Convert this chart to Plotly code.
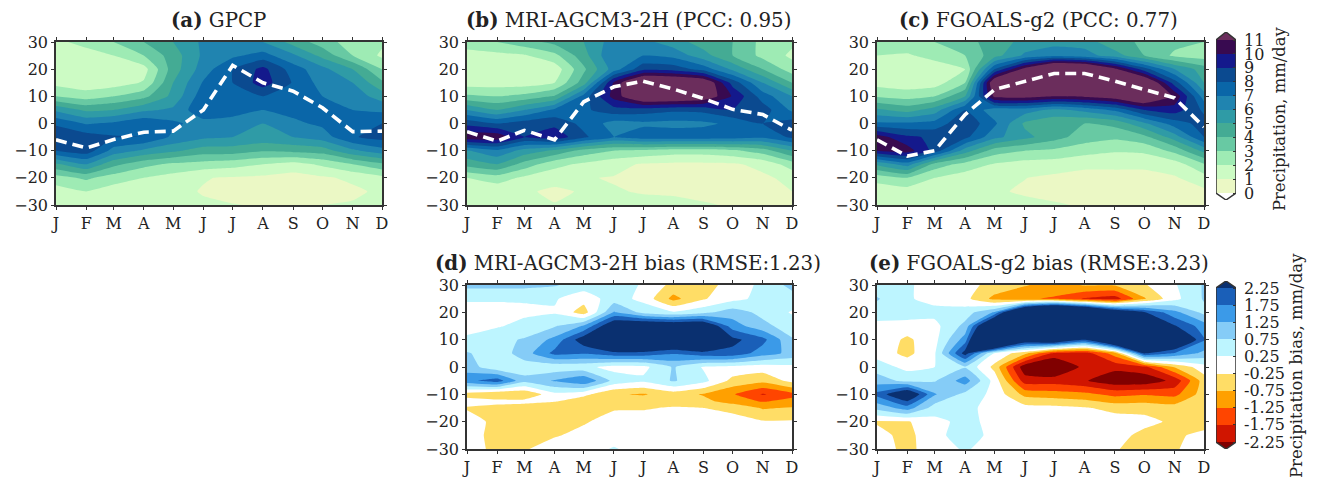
import plotly.graph_objects as go

W, H = 1320, 481
month_labels = ["J", "F", "M", "A", "M", "J", "J", "A", "S", "O", "N", "D"]
month_days = [0, 31, 59, 90, 120, 151, 181, 212, 243, 273, 304, 334]
lats = [30, 25, 20, 15, 10, 5, 0, -5, -10, -15, -20, -25, -30]
lats_d = [30, 25, 20, 15, 10, 5, 0, -5, -10, -12.5, -15, -20, -25, -30]

gpcp = [
    [1.8, 2.3, 3.0, 4.0, 5.0, 6.2, 6.3, 6.0, 4.6, 3.5, 2.5, 2.2],
    [1.5, 1.6, 2.0, 3.0, 4.5, 6.2, 6.8, 7.4, 6.2, 4.7, 3.0, 1.8],
    [1.2, 1.1, 1.1, 1.6, 4.5, 6.5, 8.0, 9.3, 7.5, 6.3, 5.0, 3.0],
    [1.7, 1.4, 1.5, 2.1, 5.0, 7.1, 8.0, 9.5, 7.9, 6.6, 6.0, 4.2],
    [3.0, 2.5, 3.0, 3.7, 5.3, 7.6, 7.6, 8.0, 7.5, 7.0, 6.6, 5.5],
    [5.8, 4.8, 5.0, 5.8, 6.2, 7.8, 7.2, 7.0, 7.3, 7.6, 7.0, 6.8],
    [7.8, 6.9, 7.2, 7.8, 7.2, 6.6, 6.8, 6.0, 6.8, 7.2, 7.7, 8.0],
    [9.0, 8.5, 8.1, 8.0, 6.8, 6.2, 6.0, 5.7, 6.0, 6.5, 7.9, 8.4],
    [8.0, 8.6, 6.6, 5.8, 5.2, 4.5, 4.5, 4.1, 4.3, 4.5, 5.8, 6.6],
    [4.8, 6.0, 4.3, 3.3, 2.8, 2.6, 2.4, 2.0, 1.6, 2.2, 3.0, 3.8],
    [2.6, 3.2, 2.5, 2.0, 1.6, 1.05, 0.9, 0.8, 0.6, 0.85, 1.2, 1.7],
    [1.5, 2.0, 1.5, 1.3, 1.2, 0.95, 0.6, 0.5, 0.5, 0.6, 0.8, 1.2],
    [1.3, 1.3, 1.2, 1.1, 1.1, 1.1, 1.05, 0.9, 0.9, 1.0, 1.1, 1.2],
]
mri = [
    [2.5, 3.0, 3.6, 4.3, 5.0, 6.5, 6.3, 5.5, 4.5, 4.0, 2.7, 2.2],
    [1.6, 1.7, 1.9, 2.7, 4.6, 7.0, 7.0, 6.7, 5.4, 4.0, 2.7, 1.8],
    [1.3, 1.1, 1.1, 1.4, 3.8, 6.5, 8.7, 8.6, 7.6, 5.8, 4.0, 2.5],
    [1.5, 1.5, 1.5, 2.0, 4.5, 10.2, 13.3, 13.0, 12.4, 8.6, 6.0, 4.0],
    [3.2, 3.0, 3.3, 4.1, 7.4, 10.4, 12.6, 12.6, 12.0, 9.9, 7.5, 6.0],
    [6.0, 5.0, 6.0, 7.2, 7.8, 8.6, 8.5, 8.2, 8.3, 9.0, 8.5, 6.8],
    [8.7, 8.0, 8.5, 8.7, 7.7, 6.6, 6.8, 6.7, 6.8, 7.2, 8.0, 8.5],
    [10.8, 10.8, 9.0, 9.7, 8.2, 7.0, 7.6, 7.6, 7.6, 7.5, 7.2, 8.2],
    [5.9, 6.8, 5.6, 4.8, 3.6, 3.0, 2.8, 2.5, 2.5, 2.8, 3.5, 5.0],
    [4.4, 5.0, 3.6, 2.3, 1.8, 1.3, 0.9, 0.8, 0.8, 0.85, 1.3, 2.5],
    [2.0, 2.5, 1.8, 1.4, 1.05, 0.95, 0.7, 0.6, 0.6, 0.6, 0.8, 1.3],
    [1.3, 1.3, 1.15, 0.8, 1.1, 1.05, 0.95, 0.9, 0.85, 0.7, 0.8, 1.0],
    [1.2, 1.25, 1.2, 1.05, 1.15, 1.2, 1.2, 1.2, 1.05, 0.95, 0.9, 0.85],
]
fgoals = [
    [2.3, 2.5, 3.0, 3.6, 4.5, 5.3, 5.6, 5.6, 4.2, 3.9, 3.3, 3.0],
    [2.0, 1.9, 2.3, 3.0, 4.6, 6.2, 6.8, 6.4, 5.5, 4.0, 2.8, 2.5],
    [1.8, 1.5, 1.5, 2.0, 8.0, 11.5, 14.5, 14.0, 11.3, 8.5, 6.0, 4.5],
    [1.6, 1.4, 1.5, 3.0, 12.5, 14.0, 15.0, 15.0, 14.0, 13.0, 8.5, 5.0],
    [2.9, 2.6, 3.0, 5.0, 11.3, 11.5, 11.0, 11.2, 11.8, 13.0, 10.8, 6.5],
    [5.2, 4.6, 5.5, 8.0, 6.4, 6.5, 5.7, 6.3, 7.2, 9.0, 9.5, 7.8],
    [7.2, 7.2, 7.4, 8.8, 7.2, 4.8, 4.3, 4.0, 4.3, 5.8, 7.5, 8.4],
    [10.5, 9.2, 8.8, 8.3, 6.3, 5.3, 4.4, 3.5, 3.2, 3.7, 5.5, 8.0],
    [10.0, 10.5, 8.6, 5.5, 3.5, 3.0, 2.8, 2.4, 2.1, 2.2, 3.3, 5.3],
    [5.2, 6.5, 3.6, 2.6, 1.9, 1.6, 1.5, 1.2, 1.2, 1.2, 1.5, 2.9],
    [2.4, 3.0, 2.0, 1.5, 1.2, 1.02, 0.8, 0.7, 0.7, 0.7, 0.9, 1.6],
    [1.4, 1.5, 1.3, 1.2, 1.1, 0.9, 0.7, 0.6, 0.5, 0.5, 0.6, 0.8],
    [1.3, 1.4, 1.35, 1.3, 1.3, 1.2, 1.1, 0.9, 0.8, 0.8, 0.8, 0.8],
]
mri_bias = [
    [0.9, 0.9, 0.9, 0.8, 0.5, 0.5, 0.2, -0.4, -0.4, -0.1, 0.4, 0.9],
    [0.3, 0.3, 0.3, 0.3, -0.05, 0.5, 0.1, -0.9, -0.3, 0.1, 0.4, 0.55],
    [0.1, 0.1, 0.15, 0.2, -0.5, 1.3, 0.6, 0.3, 0.6, 1.0, 0.6, 0.2],
    [0.15, 0.2, 0.4, 0.7, 1.3, 2.9, 3.1, 3.0, 3.0, 1.5, 0.9, 0.5],
    [0.3, 0.6, 0.8, 1.4, 2.6, 3.6, 3.6, 3.5, 3.5, 2.4, 1.9, 0.8],
    [0.8, 0.45, 1.0, 1.9, 1.8, 2.1, 2.1, 1.8, 2.1, 2.1, 1.5, 1.1],
    [1.0, 0.4, 0.5, 0.4, 0.4, 0.05, 0.1, 0.8, 0.2, 0.1, 0.0, 0.1],
    [1.6, 2.0, 0.9, 1.3, 1.7, 0.6, 0.35, 0.8, 0.4, -0.4, -0.6, -0.1],
    [-0.5, -0.75, -0.7, 0.1, -0.1, -0.7, -0.8, -0.5, -0.8, -1.2, -1.8, -1.4],
    [0.0, -0.1, -0.1, -0.2, -0.6, -0.5, -0.5, -0.5, -0.6, -1.0, -1.3, -1.1],
    [-0.3, -0.4, -0.5, -0.7, -0.5, -0.3, -0.3, -0.2, -0.25, -0.35, -0.8, -0.7],
    [0.0, -0.4, -0.5, -0.45, -0.3, -0.05, 0.0, 0.0, 0.0, -0.1, -0.2, -0.2],
    [0.0, -0.45, -0.5, -0.3, -0.1, 0.0, 0.0, 0.0, 0.0, 0.0, 0.0, 0.0],
    [0.0, -0.4, -0.3, 0.0, 0.0, 0.3, 0.0, 0.0, 0.0, 0.0, 0.0, 0.0],
]
fgoals_bias = [
    [0.4, 0.3, 0.1, -0.1, -0.4, -0.7, -1.0, -0.7, -0.7, -0.3, 0.2, 0.8],
    [0.8, 0.3, 0.1, -0.1, -0.9, -1.2, -1.3, -1.8, -2.0, -0.8, 0.1, 0.8],
    [0.5, 0.5, 0.4, 0.5, 1.3, 4.5, 6.0, 5.0, 3.2, 2.3, 1.4, 0.6],
    [0.1, 0.05, 0.1, 0.9, 4.0, 7.0, 8.0, 8.0, 7.5, 6.0, 2.3, 1.5],
    [0.1, -0.35, 0.1, 1.5, 6.0, 3.0, 3.4, 2.3, 4.5, 7.0, 3.5, 1.8],
    [0.05, -0.4, 0.2, 2.5, 0.2, -0.6, -1.9, -2.0, -1.0, 2.3, 1.7, 1.1],
    [0.5, 0.1, 0.25, 0.7, -0.4, -2.6, -2.9, -2.1, -2.1, -1.9, -0.7, 0.05],
    [1.0, 0.6, 0.7, 1.5, 0.05, -2.0, -2.0, -2.2, -2.6, -2.6, -2.1, -0.5],
    [1.9, 3.0, 1.3, 0.6, 0.1, -0.9, -1.0, -1.1, -1.4, -1.3, -1.4, -0.5],
    [0.9, 1.5, 0.5, 0.4, 0.05, -0.05, -0.1, -0.2, -0.4, -0.4, -0.5, -0.4],
    [-0.3, -0.3, 0.1, 0.4, 0.1, 0.0, 0.0, 0.0, 0.0, -0.1, -0.35, -0.5],
    [-0.1, -0.4, 0.1, 0.5, 0.1, 0.0, 0.0, 0.0, -0.05, -0.4, -0.35, -0.1],
    [0.0, -0.4, 0.05, 0.3, 0.05, 0.2, 0.05, 0.0, -0.2, -0.5, -0.3, 0.0],
]
itcz_gpcp = [-6, -9, -5.9, -3.2, -2.8, 5, 21.4, 15, 11.9, 5.8, -3, -2.8]
itcz_mri = [-3, -6.5, -2.5, -6, 8, 13.5, 15.6, 12.7, 9.2, 5.2, 3.3, -2.5]
itcz_fgoals = [-6, -12, -10, 3.3, 12.5, 15.6, 18.4, 18.4, 15.6, 12.5, 9.4, -1.3]

precip_levels = [0, 1, 2, 3, 4, 5, 6, 7, 8, 9, 10, 11]
precip_colors = ["#ffffff", "#ebf8c5", "#ccfbc4", "#9eebb4", "#68c9a3", "#44ab94", "#2f9ba6",
                 "#2084b0", "#0a66a8", "#0b4a90", "#14198c", "#380a50", "#6b2d5c"]
bias_levels = [-2.25, -1.75, -1.25, -0.75, -0.25, 0.25, 0.75, 1.25, 1.75, 2.25]
bias_colors = ["#800000", "#d01500", "#ff4500", "#ffa000", "#ffdd66", "#ffffff", "#bdf5ff",
               "#85ccf7", "#3b9ae8", "#1a5fb8", "#0a3070"]
bias_ticktext = ["-2.25", "-1.75", "-1.25", "-0.75", "-0.25", "0.25", "0.75", "1.25", "1.75", "2.25"]

SERIF = "DejaVu Serif"
INK = "#222222"


def stepped(colors):
    n = len(colors) - 1
    return [[i / n, c] for i, c in enumerate(colors)]


def dom_x(x0, x1):
    return [x0 / W, x1 / W]


def dom_y(y_top, y_bottom):
    return [1 - y_bottom / H, 1 - y_top / H]


fig = go.Figure()
panels = [
    ("a", lats, gpcp, precip_levels, precip_colors, itcz_gpcp, (56, 382, 42, 205), "GPCP", 218, 20),
    ("b", lats, mri, precip_levels, precip_colors, itcz_mri, (467, 792, 42, 205), "MRI-AGCM3-2H (PCC: 0.95)", 628, 20),
    ("c", lats, fgoals, precip_levels, precip_colors, itcz_fgoals, (877, 1204, 42, 205), "FGOALS-g2 (PCC: 0.77)", 1038, 20),
    ("d", lats_d, mri_bias, bias_levels, bias_colors, None, (467, 792, 285, 449), "MRI-AGCM3-2H bias (RMSE:1.23)", 628, 263),
    ("e", lats, fgoals_bias, bias_levels, bias_colors, None, (877, 1204, 285, 449), "FGOALS-g2 bias (RMSE:3.23)", 1039, 263),
]
layout = dict(
    width=W, height=H, autosize=False, margin=dict(l=0, r=0, t=0, b=0, autoexpand=False),
    paper_bgcolor="white", plot_bgcolor="white", showlegend=False,
    font=dict(family=SERIF, color=INK, size=15),
)
annotations = []
for i, (tag, ys, z, levels, colors, itcz, box, title, tx, ty) in enumerate(panels, start=1):
    xa, ya = f"x{i}", f"y{i}"
    step = levels[1] - levels[0]
    fig.add_trace(go.Contour(
        x=month_days, y=ys, z=z, xaxis=xa, yaxis=ya, showscale=False,
        colorscale=stepped(colors),
        contours=dict(coloring="fill", start=levels[0], end=levels[-1], size=step, showlines=False),
        line=dict(width=0, smoothing=0.4), hoverinfo="skip",
    ))
    if itcz is not None:
        fig.add_trace(go.Scatter(
            x=month_days, y=itcz, xaxis=xa, yaxis=ya, mode="lines",
            line=dict(color="white", width=3.6, dash="11px,6px"), hoverinfo="skip",
        ))
    x0, x1, y0, y1 = box
    axis_common = dict(showgrid=False, zeroline=False, showline=True, linecolor="#333333", linewidth=1.5,
                       mirror="allticks", ticks="outside", ticklen=3, tickwidth=1, tickcolor="#333333",
                       tickfont=dict(family=SERIF, size=16, color=INK))
    layout[f"xaxis{i}"] = dict(domain=dom_x(x0, x1), anchor=ya, range=[0, 334], tickvals=month_days,
                               ticktext=month_labels, **axis_common)
    layout[f"yaxis{i}"] = dict(domain=dom_y(y0, y1), anchor=xa, range=[-30, 30],
                               tickvals=[-30, -20, -10, 0, 10, 20, 30], **axis_common)
    annotations.append(dict(x=tx / W, y=1 - ty / H, xref="paper", yref="paper", showarrow=False,
                            xanchor="center", yanchor="middle", text=f"<b>({tag})</b> {title}",
                            font=dict(family=SERIF, size=19.8, color=INK)))

bars = [
    (6, precip_levels, precip_colors, [str(v) for v in precip_levels], (32, 200), (40, 193)),
    (7, bias_levels, bias_colors, bias_ticktext, (281, 449), (288, 442)),
]
for idx, levels, colors, ticktext, (top, bottom), (body_top, body_bottom) in bars:
    xa, ya = f"x{idx}", f"y{idx}"
    step = levels[1] - levels[0]
    per_px = (levels[-1] - levels[0]) / (body_bottom - body_top)
    hi = levels[-1] + (body_top - top) * per_px
    lo = levels[0] - (bottom - body_bottom) * per_px
    fig.add_trace(go.Heatmap(
        x=[0, 1], y=levels, z=[[(a + b) / 2] for a, b in zip(levels[:-1], levels[1:])],
        xaxis=xa, yaxis=ya, showscale=False, colorscale=stepped(colors),
        zmin=levels[0] - step / 2, zmax=levels[-1] + step / 2, hoverinfo="skip",
    ))
    for tip, base, color in ((hi, levels[-1], colors[-1]), (lo, levels[0], colors[0])):
        fig.add_trace(go.Scatter(x=[0, 0.5, 1, 0], y=[base, tip, base, base], xaxis=xa, yaxis=ya, mode="lines",
                                 fill="toself", fillcolor=color, line=dict(width=0), hoverinfo="skip"))
    fig.add_trace(go.Scatter(
        x=[0, 0.5, 1, 1, 0.5, 0, 0],
        y=[levels[-1], hi, levels[-1], levels[0], lo, levels[0], levels[-1]],
        xaxis=xa, yaxis=ya, mode="lines", line=dict(color="#333333", width=1.5), hoverinfo="skip",
    ))
    layout[f"xaxis{idx}"] = dict(domain=dom_x(1216, 1236), anchor=ya, range=[0, 1], visible=False)
    layout[f"yaxis{idx}"] = dict(domain=dom_y(top, bottom), anchor=xa, range=[lo, hi], side="right",
                                 tickvals=levels, ticktext=ticktext, showgrid=False, zeroline=False,
                                 showline=False, ticks="inside", ticklen=3, tickcolor="#333333",
                                 ticklabelstandoff=7,
                                 tickfont=dict(family=SERIF, size=16, color=INK))

annotations.append(dict(x=1279 / W, y=1 - 119 / H, xref="paper", yref="paper", showarrow=False, textangle=-90,
                        xanchor="center", yanchor="middle",
                        text="Precipitation, mm/day", font=dict(family=SERIF, size=16.4, color=INK)))
annotations.append(dict(x=1296 / W, y=1 - 366 / H, xref="paper", yref="paper", showarrow=False, textangle=-90,
                        xanchor="center", yanchor="middle",
                        text="Precipitation bias, mm/day", font=dict(family=SERIF, size=16.5, color=INK)))
layout["annotations"] = annotations
fig.update_layout(**layout)
fig.write_html("out.html", config=dict(displayModeBar=False),
               post_script="document.body.style.margin='0';document.body.style.overflow='hidden';")
